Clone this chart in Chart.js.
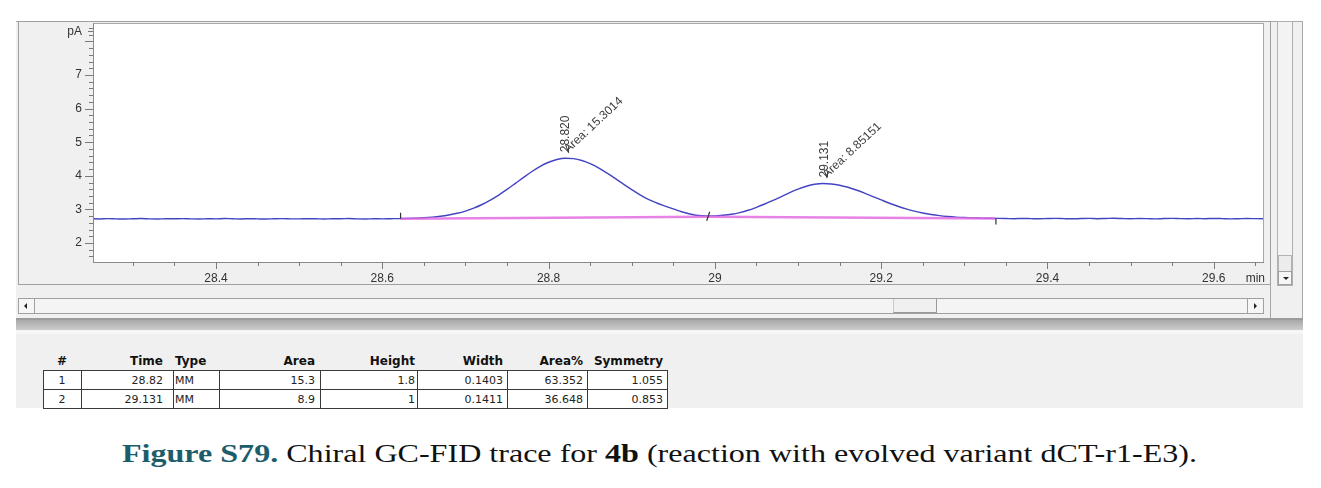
<!DOCTYPE html>
<html><head><meta charset="utf-8">
<script src="https://cdn.jsdelivr.net/npm/chart.js@4.4.0/dist/chart.umd.min.js"></script>
<style>
html,body{margin:0;padding:0;background:#fff;width:1321px;height:488px;overflow:hidden;position:relative;font-family:'Liberation Sans',Arial,sans-serif;}
.a{position:absolute;box-sizing:border-box;}
#win{left:16px;top:21px;width:1287px;height:300px;background:#f0f0f0;border-top:1px solid #a8a8a8;border-right:1px solid #a8a8a8;}
#frame{left:18px;top:21px;width:1253px;height:264px;border:1px solid #a0a0a0;background:#f0f0f0;}
#divider{left:1270px;top:285px;width:1px;height:36px;background:#a8a8a8;}
#vscroll{left:1277px;top:21px;width:16px;height:265px;border:1px solid #b0b0b0;background:#f3f3f3;}
#vthumb{left:0px;top:233px;width:14px;height:17px;border:1px solid #b4b4b4;background:#ececec;}
#vdown{left:0px;top:249px;width:14px;height:14px;border:1px solid #a0a0a0;background:#f6f6f6;}
#hscroll{left:18px;top:298px;width:1246px;height:16px;border:1px solid #a0a0a0;background:#f4f4f4;}
#hleft{left:0;top:0;width:16px;height:14px;border-right:1px solid #a0a0a0;background:#f6f6f6;}
#hright{right:0;top:0;width:16px;height:14px;border-left:1px solid #a0a0a0;background:#f6f6f6;}
#hthumb{left:874px;top:0;width:44px;height:14px;border-right:1px solid #9a9a9a;border-bottom:1px solid #9a9a9a;border-left:1px solid #c8c8c8;background:#f0f0f0;}
.tri{position:absolute;width:0;height:0;}
#line318{left:16px;top:318px;width:1287px;height:2px;background:#9c9c9c;}
#band{left:16px;top:320px;width:1287px;height:10px;background:linear-gradient(#a9a9a9,#cdcdcd);}
#panel{left:16px;top:330px;width:1287px;height:78px;background:#f0f0f0;border-top:4px solid #f6f6f6;}
#cv{position:absolute;left:0;top:0;}
.cell{position:absolute;box-sizing:border-box;font-family:'DejaVu Sans',Verdana,sans-serif;font-size:11px;color:#222;white-space:nowrap;line-height:19px;height:19px;}
.hdr{font-weight:bold;font-size:12px;color:#111;line-height:17px;height:17px;}
#caption{left:122px;top:440px;white-space:nowrap;font-family:'Liberation Serif','Times New Roman',serif;font-size:25px;color:#111;transform-origin:0 0;}
#caption .fig{color:#1d5c6b;font-weight:bold;}
</style>
</head><body>
<div id="win" class="a"></div>
<div id="frame" class="a"></div>
<div id="divider" class="a"></div>
<div id="vscroll" class="a"><div id="vthumb" class="a"></div><div id="vdown" class="a"><div class="tri" style="left:4px;top:5px;border-left:3px solid transparent;border-right:3px solid transparent;border-top:3px solid #222;"></div></div></div>
<div id="hscroll" class="a"><div id="hleft" class="a"><div class="tri" style="left:5px;top:4px;border-top:3px solid transparent;border-bottom:3px solid transparent;border-right:3px solid #222;"></div></div><div id="hthumb" class="a"></div><div id="hright" class="a"><div class="tri" style="left:6px;top:4px;border-top:3px solid transparent;border-bottom:3px solid transparent;border-left:3px solid #222;"></div></div></div>
<div id="line318" class="a"></div>
<div id="band" class="a"></div>
<div id="panel" class="a"></div>
<div id="table"></div>
<canvas id="cv" width="1321" height="290"></canvas>
<div id="caption" class="a"><span class="fig">Figure S79.</span> Chiral GC-FID trace for <b>4b</b> (reaction with evolved variant dCT-r1-E3).</div>
<script>
// ---------- chromatogram data ----------
const TIME = [
28.25,28.26,28.27,28.28,28.29,28.30,28.31,28.32,28.33,28.34,28.35,28.36,28.37,28.38,28.39,28.40,28.41,28.42,28.43,28.44,
28.45,28.46,28.47,28.48,28.49,28.50,28.51,28.52,28.53,28.54,28.55,28.56,28.57,28.58,28.59,28.60,28.61,28.62,28.63,28.64,
28.65,28.66,28.67,28.68,28.69,28.70,28.71,28.72,28.73,28.74,28.75,28.76,28.77,28.78,28.79,28.80,28.81,28.82,28.83,28.84,
28.85,28.86,28.87,28.88,28.89,28.90,28.91,28.92,28.93,28.94,28.95,28.96,28.97,28.98,28.99,29.00,29.01,29.02,29.03,29.04,
29.05,29.06,29.07,29.08,29.09,29.10,29.11,29.12,29.13,29.14,29.15,29.16,29.17,29.18,29.19,29.20,29.21,29.22,29.23,29.24,
29.25,29.26,29.27,29.28,29.29,29.30,29.31,29.32,29.33,29.34,29.35,29.36,29.37,29.38,29.39,29.40,29.41,29.42,29.43,29.44,
29.45,29.46,29.47,29.48,29.49,29.50,29.51,29.52,29.53,29.54,29.55,29.56,29.57,29.58,29.59,29.60,29.61,29.62,29.63,29.64,
29.65,29.66];
const SIGNAL = [
2.722,2.716,2.725,2.719,2.713,2.721,2.727,2.718,2.715,2.723,2.720,2.726,2.717,2.714,2.722,2.719,2.728,2.721,2.716,2.724,
2.718,2.713,2.722,2.726,2.719,2.717,2.723,2.720,2.715,2.724,2.721,2.727,2.718,2.716,2.722,2.719,2.723,2.726,2.732,2.740,
2.752,2.770,2.796,2.834,2.884,2.951,3.038,3.146,3.276,3.427,3.594,3.773,3.954,4.127,4.281,4.403,4.486,4.523,4.511,4.455,
4.362,4.236,4.085,3.922,3.753,3.589,3.435,3.296,3.190,3.100,3.014,2.931,2.863,2.817,2.806,2.808,2.827,2.857,2.906,2.974,
3.063,3.161,3.270,3.383,3.502,3.605,3.689,3.747,3.771,3.758,3.720,3.658,3.577,3.484,3.383,3.282,3.183,3.094,3.015,2.948,
2.892,2.848,2.814,2.789,2.770,2.757,2.747,2.741,2.736,2.733,2.729,2.724,2.731,2.726,2.721,2.728,2.733,2.725,2.720,2.727,
2.732,2.724,2.729,2.735,2.727,2.722,2.730,2.726,2.719,2.728,2.733,2.725,2.721,2.729,2.724,2.731,2.726,2.718,2.723,2.729,
2.725,2.722];
// integration baseline (drawn line) and peak boundary markers
const BASE_T = [28.622, 28.992, 29.338];
const BASE_Y = [2.720, 2.780, 2.730];
// peak annotations
const PEAK_RT = [28.820, 29.131];
const PEAK_APEX = [4.523, 3.771];
const PEAK_AREA = ['15.3014', '8.85151'];
// axes
const X_TICK_VALUES = [28.4, 28.6, 28.8, 29.0, 29.2, 29.4, 29.6];
const X_TICK_LABELS = ['28.4', '28.6', '28.8', '29', '29.2', '29.4', '29.6'];
const Y_TICK_VALUES = [2, 3, 4, 5, 6, 7];
const Y_TICK_LABELS = ['2', '3', '4', '5', '6', '7'];
const X_UNIT = 'min', Y_UNIT = 'pA';
// integration results table
const TABLE_HEADERS = ['#', 'Time', 'Type', 'Area', 'Height', 'Width', 'Area%', 'Symmetry'];
const PK_NUM = ['1', '2'];
const PK_TIME = ['28.82', '29.131'];
const PK_TYPE = ['MM', 'MM'];
const PK_AREA = ['15.3', '8.9'];
const PK_HEIGHT = ['1.8', '1'];
const PK_WIDTH = ['0.1403', '0.1411'];
const PK_AREA_PCT = ['63.352', '36.648'];
const PK_SYMMETRY = ['1.055', '0.853'];

// ---------- layout constants ----------
const X_MIN = 28.2521, X_MAX = 29.6604, Y_MIN = 1.4345, Y_MAX = 8.548;
const X_UNIT_AT = 29.65, Y_UNIT_AT = 8.3;

const chromePlugin = {
  id: 'chrome',
  beforeDatasetsDraw(chart) {
    const {ctx, chartArea: a} = chart;
    ctx.save(); ctx.fillStyle = '#ffffff';
    ctx.fillRect(a.left, a.top, a.right - a.left, a.bottom - a.top);
    ctx.restore();
  },
  afterDatasetsDraw(chart) {
    const {ctx, chartArea: a, scales: {x, y}} = chart;
    ctx.save();
    // plot border
    ctx.strokeStyle = '#a8a8a8'; ctx.lineWidth = 1;
    ctx.strokeRect(a.left + 0.5, a.top + 0.5, a.right - a.left - 1, a.bottom - a.top);
    ctx.strokeStyle = '#8a8a8a';
    ctx.beginPath(); ctx.moveTo(a.left + 0.5, a.top); ctx.lineTo(a.left + 0.5, a.bottom + 0.5);
    ctx.lineTo(a.right, a.bottom + 0.5); ctx.stroke();
    // y ticks (every 0.2, majors at integers)
    ctx.strokeStyle = '#7a7a7a';
    ctx.beginPath();
    for (let k = 8; k <= 42; k++) {
      const v = k / 5, py = Math.round(y.getPixelForValue(v)) + 0.5;
      if (py < a.top || py > a.bottom) continue;
      const len = (k % 5 === 0) ? 8 : 4;
      ctx.moveTo(a.left - len, py); ctx.lineTo(a.left, py);
    }
    ctx.moveTo(a.left - 5, Math.round(y.getPixelForValue(Y_UNIT_AT)) + 0.5);
    ctx.lineTo(a.left, Math.round(y.getPixelForValue(Y_UNIT_AT)) + 0.5);
    // x ticks (every 0.05, majors every 0.2)
    for (let k = 0; k <= 27; k++) {
      const v = 28.3 + k * 0.05, px = Math.round(x.getPixelForValue(v)) + 0.5;
      const major = (k % 4 === 2);
      ctx.moveTo(px, a.bottom); ctx.lineTo(px, a.bottom + (major ? 7 : 4));
    }
    ctx.stroke();
    // peak boundary markers
    ctx.strokeStyle = '#333'; ctx.lineWidth = 1.2;
    ctx.beginPath();
    BASE_T.forEach((t, i) => {
      const px = x.getPixelForValue(t), py = y.getPixelForValue(BASE_Y[i]);
      if (i === 0) { ctx.moveTo(px, py); ctx.lineTo(px, py - 6); }
      else if (i === BASE_T.length - 1) { ctx.moveTo(px, py); ctx.lineTo(px, py + 6); }
      else { ctx.moveTo(px + 1.5, py - 5); ctx.lineTo(px - 1.5, py + 4); }
    });
    ctx.stroke();
    // peak labels
    ctx.fillStyle = '#3c3c3c';
    ctx.font = '12px "Liberation Sans", Arial, sans-serif';
    PEAK_RT.forEach((rt, i) => {
      const px = x.getPixelForValue(rt), py = y.getPixelForValue(PEAK_APEX[i]);
      ctx.save(); ctx.translate(px + 0.5, py - 6); ctx.rotate(-Math.PI / 2);
      ctx.textAlign = 'left'; ctx.textBaseline = 'middle';
      ctx.fillText(rt.toFixed(3), 0, 0); ctx.restore();
      ctx.save(); ctx.translate(px + 3, py - 5); ctx.rotate(-43 * Math.PI / 180);
      ctx.textAlign = 'left'; ctx.textBaseline = 'alphabetic';
      ctx.fillText('Area: ' + PEAK_AREA[i], 0, 0); ctx.restore();
    });
    ctx.restore();
  }
};

const near = (a, b) => Math.abs(a - b) < 1e-6;
new Chart(document.getElementById('cv'), {
  type: 'line',
  data: {
    datasets: [
      { label: 'Baseline', data: BASE_T.map((t, i) => ({x: t, y: BASE_Y[i]})),
        borderColor: 'rgba(226,104,226,0.82)', borderWidth: 2.6, pointRadius: 0, tension: 0, order: 0 },
      { label: 'FID1 A', data: TIME.map((t, i) => ({x: t, y: SIGNAL[i]})),
        borderColor: '#4444c2', borderWidth: 1.4, pointRadius: 0, cubicInterpolationMode: 'monotone', order: 1 }
    ]
  },
  options: {
    responsive: false, animation: false, devicePixelRatio: 1,
    layout: {padding: {left: 0, top: 23, right: 57, bottom: 0}},
    plugins: {legend: {display: false}, tooltip: {enabled: false}},
    scales: {
      x: {
        type: 'linear', min: X_MIN, max: X_MAX,
        grid: {display: false, drawTicks: false}, border: {display: false},
        afterBuildTicks: s => { s.ticks = X_TICK_VALUES.concat([X_UNIT_AT]).map(v => ({value: v})); },
        afterFit: s => { s.height = 28; },
        ticks: {autoSkip: false, maxRotation: 0, minRotation: 0, padding: 9, color: '#333',
          font: {family: '"Liberation Sans", Arial, sans-serif', size: 12},
          callback: v => { if (near(v, X_UNIT_AT)) return X_UNIT;
            const i = X_TICK_VALUES.findIndex(t => near(t, v)); return i >= 0 ? X_TICK_LABELS[i] : ''; }}
      },
      y: {
        type: 'linear', min: Y_MIN, max: Y_MAX,
        grid: {display: false, drawTicks: false}, border: {display: false},
        afterBuildTicks: s => { s.ticks = Y_TICK_VALUES.concat([Y_UNIT_AT]).map(v => ({value: v})); },
        afterFit: s => { s.width = 93; },
        ticks: {autoSkip: false, padding: 11, color: '#333',
          font: {family: '"Liberation Sans", Arial, sans-serif', size: 12},
          callback: v => { if (near(v, Y_UNIT_AT)) return Y_UNIT;
            const i = Y_TICK_VALUES.findIndex(t => near(t, v)); return i >= 0 ? Y_TICK_LABELS[i] : ''; }}
      }
    }
  },
  plugins: [chromePlugin]
});

// ---------- results table ----------
(function () {
  const COL_X = [43, 81, 173, 219, 320, 417, 507, 587, 667];
  const ALIGN = ['center', 'right', 'left', 'right', 'right', 'right', 'right', 'right'];
  const PAD = [0, 10, 2, 5, 2, 4, 4, 4];
  const HDR_TOP = 353, ROW_TOP = 370, ROW_H = 19;
  const cols = [PK_NUM, PK_TIME, PK_TYPE, PK_AREA, PK_HEIGHT, PK_WIDTH, PK_AREA_PCT, PK_SYMMETRY];
  const host = document.getElementById('table');
  function cell(text, c, top, cls) {
    const d = document.createElement('div');
    d.className = cls; d.textContent = text;
    d.style.left = COL_X[c] + 'px'; d.style.top = top + 'px';
    d.style.width = (COL_X[c + 1] - COL_X[c]) + 'px';
    d.style.textAlign = ALIGN[c];
    if (ALIGN[c] === 'right') d.style.paddingRight = PAD[c] + 'px';
    if (ALIGN[c] === 'left') d.style.paddingLeft = PAD[c] + 'px';
    host.appendChild(d);
  }
  TABLE_HEADERS.forEach((h, c) => cell(h, c, HDR_TOP, 'cell hdr'));
  const nRows = PK_NUM.length;
  // white cell background
  const bg = document.createElement('div');
  bg.className = 'a';
  Object.assign(bg.style, {left: COL_X[0] + 'px', top: ROW_TOP + 'px', width: (COL_X[8] - COL_X[0]) + 'px',
    height: (nRows * ROW_H + 1) + 'px', background: '#fff'});
  host.appendChild(bg);
  for (let r = 0; r < nRows; r++) cols.forEach((col, c) => cell(col[r], c, ROW_TOP + r * ROW_H + 1, 'cell'));
  function line(l, t, w, h) {
    const d = document.createElement('div'); d.className = 'a';
    Object.assign(d.style, {left: l + 'px', top: t + 'px', width: w + 'px', height: h + 'px', background: '#3a3a3a'});
    host.appendChild(d);
  }
  for (let r = 0; r <= nRows; r++) line(COL_X[0], ROW_TOP + r * ROW_H, COL_X[8] - COL_X[0] + 1, 1);
  COL_X.forEach(xp => line(xp, ROW_TOP, 1, nRows * ROW_H + 1));
})();

// fit caption to its width in the reference
(function () {
  const c = document.getElementById('caption');
  const w = c.getBoundingClientRect().width;
  c.style.transform = 'scaleX(' + (1075 / w) + ')';
})();
</script>
</body></html>
